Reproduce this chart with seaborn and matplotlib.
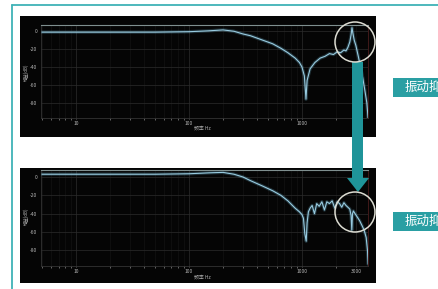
import matplotlib
matplotlib.use("Agg")
import matplotlib.pyplot as plt
import matplotlib.patches as mpatches
import seaborn as sns
import pandas as pd

sns.set_theme(style="dark")
plt.rcParams['font.family'] = ['Noto Sans CJK SC', 'DejaVu Sans']

# ---------------- data ----------------
top_freq = [5, 10, 20, 50, 100, 150, 200, 250, 300, 350, 450, 550, 650, 750, 870,
            950, 1000, 1050, 1085, 1110, 1180, 1300, 1450, 1600, 1750, 1900, 2050,
            2200, 2350, 2450, 2550, 2650, 2720, 2770, 2820, 2900, 3000, 3150, 3300,
            3450, 3600, 3750, 3850]
top_db = [-1, -1, -1, -1, -0.5, 0.5, 1.5, 0, -3, -5, -10, -14, -19, -24, -30,
          -35, -40, -50, -76, -55, -42, -35, -30, -28, -25, -26, -23,
          -24, -21, -22, -18, -12, -4, 4, -2, -10, -16, -28, -40,
          -52, -66, -80, -98]

bot_freq = [5, 10, 20, 50, 100, 150, 200, 250, 300, 350, 450, 550, 650, 750, 870,
            950, 1000, 1030, 1060, 1090, 1110, 1140, 1180, 1230, 1290, 1350, 1420,
            1500, 1580, 1660, 1750, 1850, 1950, 2050, 2150, 2250, 2350, 2450, 2550,
            2650, 2720, 2760, 2800, 2850, 2950, 3100, 3250, 3400, 3550, 3700, 3800, 3850]
bot_db = [3, 3, 3, 3, 3.5, 4.5, 5, 3, 0, -4, -10, -15, -20, -26, -34,
          -38, -41, -45, -62, -70, -50, -38, -34, -31, -40, -29, -32,
          -27, -36, -27, -29, -26, -34, -27, -29, -33, -28, -31, -33,
          -35, -42, -58, -40, -37, -40, -44, -48, -53, -58, -66, -80, -95]

x_ticks_top = [10, 100, 1000]
x_labels_top = ["10", "100", "1000"]
x_ticks_bot = [10, 100, 1000, 3000]
x_labels_bot = ["10", "100", "1000", "3000"]
y_ticks = [0, -20, -40, -60, -80]
y_labels = ["0", "-20", "-40", "-60", "-80"]
x_title = "频率 Hz"
y_title = "增益(dB)"
tag_top = "振动抑制前"
tag_bot = "振动抑制后"

# ---------------- figure ----------------
W, H = 439, 289
fig = plt.figure(figsize=(W / 100, H / 100), dpi=100)
fig.patch.set_facecolor("white")

def fx(x):
    return x / W

def fy(y):
    return 1 - y / H

TEAL = "#2a9fa3"
FRAME = "#3fb2b6"

# outer frame (clipped at right/bottom)
fig.add_artist(plt.Line2D([fx(12), fx(12)], [fy(5), fy(295)], color=FRAME, lw=1.3,
                          transform=fig.transFigure))
fig.add_artist(plt.Line2D([fx(12), fx(445)], [fy(5), fy(5)], color=FRAME, lw=1.3,
                          transform=fig.transFigure))

# black panels
for (y0, y1) in [(16, 137), (168, 283)]:
    fig.add_artist(mpatches.Rectangle((fx(20), fy(y1)), fx(376) - fx(20), fy(y0) - fy(y1),
                                      transform=fig.transFigure, facecolor="#050505",
                                      edgecolor="none", zorder=0))

ax_top = fig.add_axes([fx(41), fy(118), fx(368) - fx(41), fy(25) - fy(118)])
ax_bot = fig.add_axes([fx(41), fy(266), fx(368) - fx(41), fy(170) - fy(266)])

panels = [
    (ax_top, top_freq, top_db, x_ticks_top, x_labels_top, (-97, 7)),
    (ax_bot, bot_freq, bot_db, x_ticks_bot, x_labels_bot, (-97, 7.6)),
]

for ax, fr, db, xt, xl, yl in panels:
    ax.set_facecolor("#050505")
    df = pd.DataFrame({"f": fr, "db": db})
    sns.lineplot(data=df, x="f", y="db", ax=ax, color="#6fb6d2", lw=2.4, alpha=0.25,
                 zorder=3)
    sns.lineplot(data=df, x="f", y="db", ax=ax, color="#98cbe0", lw=0.8, zorder=4)
    ax.set_xscale("log")
    ax.set_xlim(4.9, 3840)
    ax.set_ylim(*yl)
    ax.set_xticks(xt)
    ax.set_xticklabels(xl)
    ax.xaxis.set_minor_locator(matplotlib.ticker.LogLocator(base=10, subs=range(2, 10)))
    ax.xaxis.set_minor_formatter(matplotlib.ticker.NullFormatter())
    ax.set_yticks(y_ticks)
    ax.set_yticklabels(y_labels)
    ax.grid(True, which="major", color="#2c2c2c", lw=0.5)
    ax.grid(True, which="minor", axis="x", color="#161616", lw=0.4)
    ax.tick_params(axis="both", which="both", colors="#8a8a8a", labelsize=3.5,
                   length=1, width=0.5, pad=1.5, labelcolor="#b8b8b8")
    ax.tick_params(axis="x", which="minor", length=1.5, bottom=True)
    ax.tick_params(axis="x", which="major", bottom=True)
    for s in ["left", "bottom"]:
        ax.spines[s].set_visible(True)
        ax.spines[s].set_color("#333333")
        ax.spines[s].set_linewidth(0.6)
    ax.spines["top"].set_visible(True)
    ax.spines["top"].set_color("#7f8f8f")
    ax.spines["top"].set_linewidth(0.8)
    ax.spines["right"].set_visible(True)
    ax.spines["right"].set_color("#4a1c1c")
    ax.spines["right"].set_linewidth(0.6)
    ax.set_xlabel("")
    ax.set_ylabel("")

# axis titles (small)
fig.text(fx(202), fy(128), x_title, fontsize=3.5, color="#b0b0b0", ha="center", va="center")
fig.text(fx(202), fy(277), x_title, fontsize=3.5, color="#b0b0b0", ha="center", va="center")
fig.text(fx(26), fy(72), y_title, fontsize=3.2, color="#b0b0b0", ha="center", va="center",
         rotation=90)
fig.text(fx(26), fy(216), y_title, fontsize=3.2, color="#b0b0b0", ha="center", va="center",
         rotation=90)

# arrow
arrow = mpatches.Polygon([(fx(352), fy(62)), (fx(363), fy(62)), (fx(363), fy(178)),
                          (fx(369), fy(178)), (fx(358), fy(192)), (fx(347), fy(178)),
                          (fx(352), fy(178))], closed=True, transform=fig.transFigure,
                         facecolor="#1f9499", edgecolor="none", zorder=10)
fig.add_artist(arrow)

# circles
for cy in [42, 212]:
    fig.add_artist(mpatches.Ellipse((fx(355), fy(cy)), 40 / W, 40 / H,
                                    transform=fig.transFigure, facecolor="none",
                                    edgecolor="#dcdcd2", lw=1.1, zorder=11))

# tags (text runs past the right edge, as in the reference)
for (y0, y1, txt) in [(78, 97, tag_top), (212, 231, tag_bot)]:
    fig.add_artist(mpatches.Rectangle((fx(393), fy(y1)), fx(450) - fx(393), fy(y0) - fy(y1),
                                      transform=fig.transFigure, facecolor=TEAL,
                                      edgecolor="none", zorder=5))
    fig.text(fx(405), fy((y0 + y1) / 2), txt, fontsize=9, color="white",
             ha="left", va="center", zorder=6)

fig.savefig("out.png", dpi=100, facecolor="white")
